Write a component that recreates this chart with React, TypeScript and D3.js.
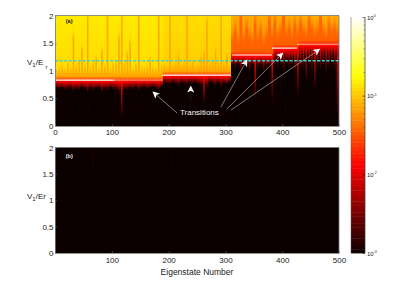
import React, { useEffect, useRef } from "react";
import * as d3 from "d3";

const binWidth = 5;

// height (V1/Er) reached by the orange streak in each 5-state bin
const flameTop = [
  0.95, 1.0, 1.05, 0.98, 1.1, 1.02, 1.62, 1.05, 1.15, 1.38,
  1.05, 2, 1.02, 1.1, 1.22, 1.0, 1.35, 1.05, 2, 1.0,
  1.08, 1.1, 1.6, 2, 1.1, 1.3, 1.5, 1.0, 1.08, 2,
  1.0, 1.02, 1.05, 1.18, 1.02, 1.0, 2, 1.05,
  1.05, 1.02, 2, 1.05, 1.1, 1.25, 1.05, 1.1, 2, 1.05,
  1.15, 1.0, 1.08, 1.22, 1.3, 1.9, 1.1, 1.15, 1.35, 1.1, 2, 1.1, 1.25, 1.05,
  1.55, 1.7, 1.5, 1.95, 1.55, 1.75, 1.6, 1.5, 1.85, 1.55, 1.7, 1.5, 1.6, 1.9,
  1.6, 1.85, 1.6, 1.7, 1.95, 1.65, 1.75, 1.6, 1.8,
  1.65, 1.85, 1.7, 1.62, 1.9, 1.75, 1.65, 1.7, 1.95, 1.7, 1.6, 1.8, 1.68, 1.75, 1.65,
];

// height below which each bin is black
const darkBelow = [
  0.7, 0.68, 0.7, 0.66, 0.68, 0.7, 0.64, 0.68, 0.66, 0.7,
  0.68, 0.62, 0.7, 0.66, 0.68, 0.7, 0.62, 0.68, 0.66, 0.7,
  0.68, 0.66, 0.6, 0.15, 0.68, 0.66, 0.7, 0.68, 0.72, 0.66,
  0.7, 0.72, 0.68, 0.7, 0.72, 0.7, 0.66, 0.72,
  0.8, 0.78, 0.76, 0.8, 0.78, 0.74, 0.8, 0.78, 0.76, 0.8,
  0.78, 0.8, 0.76, 0.74, 0.4, 0.7, 0.8, 0.78, 0.74, 0.8, 0.72, 0.78, 0.76, 0.8,
  1.1, 1.05, 1.1, 1.0, 1.1, 1.05, 1.0, 1.1, 0.45, 1.05, 1.1, 1.0, 1.05, 1.1,
  0.45, 1.1, 1.05, 1.1, 1.0, 1.1, 1.05, 1.1, 1.0,
  0.5, 1.05, 1.0, 0.8, 1.1, 1.0, 0.65, 1.05, 1.0, 1.1, 0.95, 1.05, 1.1, 1.0, 0.1,
];

// plateau of the transitions: bin edges in eigenstate number and V1/Er level
const stepEdges = [0, 190, 310, 382, 426, 500];
const stepLevels = [0.83, 0.92, 1.285, 1.41, 1.48];
const stepTopLog = [-0.84, -0.9, -1.12, -1.12, -1.1];
const stepFlameLog = [-1.15, -1.15, -1.45, -1.45, -1.45];

// white markers on the plateaus
const lineFrom = [0, 105, 190, 312, 382, 426];
const lineTo = [105, 190, 310, 382, 426, 500];
const lineLevel = [0.83, 0.83, 0.92, 1.285, 1.41, 1.48];
const lineOpacity = [1, 0.45, 1, 1, 1, 0.65];

const criticalLevel = 1.18;

// arrows: [from state, from V, to state, to V]
const arrowsWhite = [
  [215, 0.235, 172.5, 0.615],
  [292, 0.34, 338, 1.195],
  [303, 0.31, 401, 1.32],
  [310, 0.29, 466, 1.39],
];
const arrowUp = [239, 0.43, 239, 0.72];

// panel (b) is almost empty, a few faint streaks at the top
const faintBins = [13, 41];
const faintLog = [-2.88, -2.9];

const xTicksTop = [0, 100, 200, 300, 400, 500];
const xTicksBottom = [100, 200, 300, 400, 500];
const yTicks = [0, 0.5, 1, 1.5, 2];
const cbarDecades = [1e-3, 1e-2, 1e-1, 1];
const cbarExponents = ["-3", "-2", "-1", "0"];
const cbarMinor = [
  2e-3, 3e-3, 4e-3, 5e-3, 6e-3, 7e-3, 8e-3, 9e-3,
  2e-2, 3e-2, 4e-2, 5e-2, 6e-2, 7e-2, 8e-2, 9e-2,
  2e-1, 3e-1, 4e-1, 5e-1, 6e-1, 7e-1, 8e-1, 9e-1,
];

const font = "'Liberation Sans', Arial, sans-serif";

export default function App() {
  const ref = useRef<SVGSVGElement>(null);

  useEffect(() => {
    const svg = d3.select(ref.current);
    svg.selectAll("*").remove();

    const hot = d3.scaleLinear<string>()
      .domain([-3, -1.875, -0.75, 0])
      .range(["#0a0000", "#ff0000", "#ffff00", "#ffffff"])
      .clamp(true);

    const x = d3.scaleLinear().domain([0, 500]).range([55, 339]);
    const yA = d3.scaleLinear().domain([0, 2]).range([126, 15.5]);
    const yB = d3.scaleLinear().domain([0, 2]).range([253, 147.5]);
    const rows = d3.range(0, 2, 0.03);
    const binPx = x(binWidth) - x(0);
    const rowPx = yA(0) - yA(0.03);

    const defs = svg.append("defs");
    defs.append("filter").attr("id", "soft")
      .append("feGaussianBlur").attr("stdDeviation", 0.5);
    defs.append("clipPath").attr("id", "clipA").append("rect")
      .attr("x", x(0)).attr("y", yA(2)).attr("width", x(500) - x(0)).attr("height", yA(0) - yA(2));
    defs.append("marker").attr("id", "head").attr("viewBox", "0 0 10 10")
      .attr("refX", 9).attr("refY", 5).attr("markerWidth", 7).attr("markerHeight", 7)
      .attr("markerUnits", "userSpaceOnUse").attr("orient", "auto")
      .append("path").attr("d", "M0,0L10,5L0,10L2.5,5Z").attr("fill", "#fff");

    // one column of the heatmap, from its read heights
    const heat = svg.append("g").attr("clip-path", "url(#clipA)")
      .append("g").attr("filter", "url(#soft)");
    const drawColumn = (seg: number, floor: number, flame: number, px: number, width: number) => {
      const level = stepLevels[seg];
      const top = Math.max(flame, level + 0.09);
      const rise = seg < 2 ? 0.1 : 0.22;
      const profile = d3.scaleLinear()
        .domain([0, Math.min(floor, level - 0.02), level, level + 0.08, top, top + rise, Math.max(2, top + rise)])
        .range([-3, -3, -1.8, stepFlameLog[seg], stepFlameLog[seg] + 0.03, stepTopLog[seg] - 0.06, stepTopLog[seg]]);
      heat.selectAll(null).data(rows).enter().append("rect")
        .attr("x", px)
        .attr("width", width)
        .attr("y", d => yA(d + 0.03))
        .attr("height", rowPx + 1)
        .attr("fill", d => hot(profile(d + 0.015)));
    };

    // wide base first, then the narrow streaks over it
    flameTop.forEach((flame, i) => {
      const state = i * binWidth;
      const seg = d3.bisectRight(stepEdges, state) - 1;
      const baseFlame = seg < 2 ? stepLevels[seg] + 0.1 : flame;
      const baseFloor = Math.max(darkBelow[i], stepLevels[seg] - 0.16);
      drawColumn(seg, baseFloor, baseFlame, x(state), binPx + 1);
    });
    flameTop.forEach((flame, i) => {
      const state = i * binWidth;
      const seg = d3.bisectRight(stepEdges, state) - 1;
      const level = stepLevels[seg];
      const deep = darkBelow[i] < level - 0.16;
      if (seg < 2 ? flame > level + 0.1 || deep : deep) {
        drawColumn(seg, darkBelow[i], flame, x(state) + binPx * 0.25, binPx * 0.5);
      }
    });

    // panel b heatmap
    svg.append("rect")
      .attr("x", x(0)).attr("y", yB(2))
      .attr("width", x(500) - x(0)).attr("height", yB(0) - yB(2))
      .attr("fill", hot(-3));
    const faint = svg.append("g").attr("filter", "url(#soft)");
    faintBins.forEach((b, i) => {
      const fade = d3.scaleLinear().domain([1.4, 2]).range([-3, faintLog[i]]);
      faint.selectAll(null).data(d3.range(1.4, 1.94, 0.06)).enter().append("rect")
        .attr("x", x(b * binWidth))
        .attr("width", binPx * 0.5)
        .attr("y", d => yB(d + 0.06))
        .attr("height", yB(0) - yB(0.06) + 0.5)
        .attr("fill", d => hot(fade(d)));
    });

    // plateau lines
    lineFrom.forEach((from, i) => {
      svg.append("line")
        .attr("x1", x(from)).attr("x2", x(lineTo[i]))
        .attr("y1", yA(lineLevel[i])).attr("y2", yA(lineLevel[i]))
        .attr("stroke", "#fff").attr("stroke-width", 1.1)
        .attr("opacity", lineOpacity[i]);
    });

    // critical level
    svg.append("line")
      .attr("x1", x(0)).attr("x2", x(500))
      .attr("y1", yA(criticalLevel)).attr("y2", yA(criticalLevel))
      .attr("stroke", "#35d6cf").attr("stroke-width", 1.4)
      .attr("stroke-dasharray", "3 1.6");

    // annotations
    arrowsWhite.forEach(a => {
      svg.append("line")
        .attr("x1", x(a[0])).attr("y1", yA(a[1]))
        .attr("x2", x(a[2])).attr("y2", yA(a[3]))
        .attr("stroke", "#c8c8c8").attr("stroke-width", 0.6)
        .attr("marker-end", "url(#head)");
    });
    svg.append("line")
      .attr("x1", x(arrowUp[0])).attr("y1", yA(arrowUp[1]))
      .attr("x2", x(arrowUp[2])).attr("y2", yA(arrowUp[3]))
      .attr("stroke", "#2a2020").attr("stroke-width", 0.6)
      .attr("marker-end", "url(#head)");

    svg.append("text").attr("x", x(220)).attr("y", yA(0.2))
      .attr("font-size", 8).attr("fill", "#f4f4f4").text("Transitions");
    svg.append("text").attr("x", x(19)).attr("y", yA(1.86))
      .attr("font-size", 5.5).attr("font-weight", "bold").attr("fill", "#111").text("(a)");
    svg.append("text").attr("x", x(19)).attr("y", yB(1.8))
      .attr("font-size", 5.5).attr("font-weight", "bold").attr("fill", "#eee").text("(b)");

    // axes
    const styleAxis = (g: any) => {
      g.select(".domain").attr("stroke", "#777").attr("stroke-width", 0.8);
      g.selectAll("text").attr("font-size", 8).attr("font-family", font).attr("fill", "#222");
      g.selectAll(".tick line").attr("stroke", "#777").attr("stroke-width", 0.5);
    };
    const frame = (yScale: d3.ScaleLinear<number, number>, ticks: number[], xLabelY: number) => {
      svg.append("g").attr("transform", `translate(0,${yScale(0)})`)
        .call(d3.axisBottom(x).tickValues(ticks).tickFormat(d3.format("d")).tickSize(-2).tickPadding(2).tickSizeOuter(0))
        .call(styleAxis)
        .selectAll("text").attr("y", xLabelY);
      svg.append("g").attr("transform", `translate(${x(0)},0)`)
        .call(d3.axisLeft(yScale).tickValues(yTicks).tickFormat(d => String(d)).tickSize(-2).tickPadding(1.5).tickSizeOuter(0))
        .call(styleAxis);
      svg.append("path")
        .attr("d", `M${x(0)},${yScale(2)}H${x(500)}V${yScale(0)}`)
        .attr("fill", "none").attr("stroke", "#777").attr("stroke-width", 0.8);
    };
    frame(yA, xTicksTop, 3.5);
    frame(yB, xTicksBottom, 4);

    const yLabel = (py: number, sub: string) => {
      const t = svg.append("text").attr("x", 27).attr("y", py).attr("font-size", 8).attr("fill", "#222");
      t.append("tspan").text("V");
      t.append("tspan").attr("font-size", 6).attr("dy", 2).text("1");
      t.append("tspan").attr("dy", -2).text(sub);
    };
    yLabel(65, "/E");
    svg.append("text").attr("x", 45.5).attr("y", 69).attr("font-size", 6).attr("fill", "#222").text("r");
    yLabel(199, "/Er");

    svg.append("text").attr("x", x(250)).attr("y", 275)
      .attr("text-anchor", "middle").attr("font-size", 8.5).attr("fill", "#222")
      .text("Eigenstate Number");

    // colorbar
    const cb = d3.scaleLog().domain([1e-3, 1]).range([253, 17]);
    const cbX = 351, cbW = 14;
    svg.selectAll(null).data(d3.range(-3, 0, 3 / 64)).enter().append("rect")
      .attr("x", cbX).attr("width", cbW)
      .attr("y", d => cb(Math.pow(10, d + 3 / 64)))
      .attr("height", 236 / 64 + 0.4)
      .attr("fill", d => hot(d + 3 / 128));
    svg.append("line").attr("x1", cbX).attr("x2", cbX).attr("y1", 17).attr("y2", 253)
      .attr("stroke", "#555").attr("stroke-width", 0.5);
    svg.append("line").attr("x1", cbX + cbW).attr("x2", cbX + cbW).attr("y1", 17).attr("y2", 253)
      .attr("stroke", "#333").attr("stroke-width", 0.7);

    const cbAxis = svg.append("g").attr("transform", `translate(${cbX + cbW},0)`);
    cbAxis.call(d3.axisLeft(cb).tickValues(cbarMinor).tickFormat(() => "").tickSize(1.5).tickSizeOuter(0));
    cbAxis.select(".domain").remove();
    cbAxis.selectAll(".tick line").attr("stroke", "#444").attr("stroke-width", 0.5);
    const cbMajor = svg.append("g").attr("transform", `translate(${cbX + cbW},0)`);
    cbMajor.call(d3.axisLeft(cb).tickValues(cbarDecades).tickFormat(() => "").tickSize(2.5).tickSizeOuter(0));
    cbMajor.select(".domain").remove();
    cbMajor.selectAll(".tick line").attr("stroke", "#222").attr("stroke-width", 0.6);

    cbarDecades.forEach((d, i) => {
      const t = svg.append("text").attr("x", 367).attr("y", cb(d) + 2.5)
        .attr("font-size", 6).attr("fill", "#222");
      t.append("tspan").text("10");
      t.append("tspan").attr("font-size", 3.5).attr("dy", -2.5).text(cbarExponents[i]);
    });
  }, []);

  return (
    <svg
      ref={ref}
      width={415}
      height={285}
      style={{ position: "absolute", left: 0, top: 0, fontFamily: font, background: "#fff" }}
    />
  );
}
